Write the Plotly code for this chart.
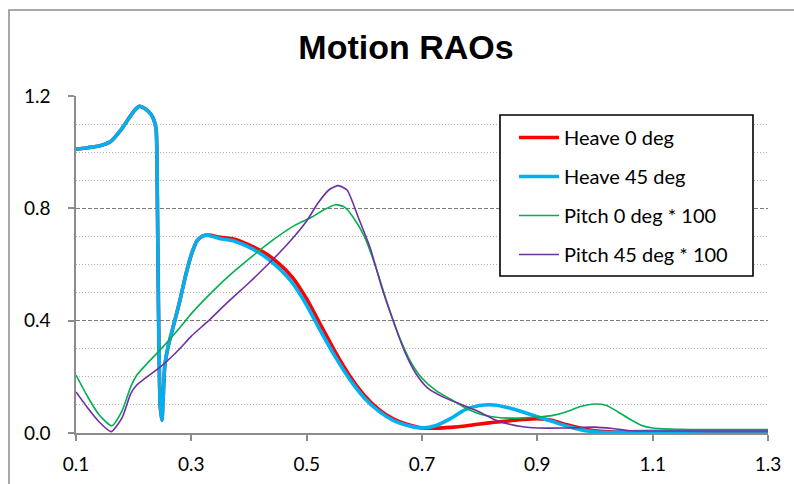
import plotly.graph_objects as go

# ---------------- data ----------------
x_h45 = [0.10, 0.12, 0.14, 0.16, 0.18, 0.20, 0.21, 0.22, 0.23, 0.235, 0.239, 0.241, 0.243, 0.246, 0.249,
         0.251, 0.254, 0.26, 0.27, 0.28, 0.29, 0.30, 0.31, 0.32, 0.33, 0.35, 0.375, 0.40, 0.425,
         0.45, 0.475, 0.50, 0.525, 0.55, 0.575, 0.60, 0.625, 0.65, 0.675, 0.70, 0.725, 0.75,
         0.775, 0.80, 0.825, 0.85, 0.875, 0.90, 0.925, 0.95, 0.975, 1.00, 1.025, 1.05, 1.10,
         1.20, 1.30]
y_h45 = [1.011, 1.016, 1.022, 1.038, 1.085, 1.145, 1.163, 1.155, 1.135, 1.115, 1.08, 0.85, 0.45, 0.10, 0.045,
         0.12, 0.24, 0.31, 0.39, 0.47, 0.56, 0.635, 0.685, 0.702, 0.703, 0.692, 0.683, 0.662, 0.632,
         0.59, 0.535, 0.455, 0.36, 0.27, 0.19, 0.125, 0.078, 0.045, 0.027, 0.018, 0.027, 0.052,
         0.083, 0.098, 0.100, 0.090, 0.075, 0.058, 0.042, 0.025, 0.012, 0.004, 0.002, 0.004, 0.006,
         0.007, 0.007]

x_h0 = x_h45
y_h0 = [1.011, 1.016, 1.022, 1.038, 1.085, 1.145, 1.163, 1.155, 1.135, 1.115, 1.08, 0.85, 0.45, 0.10, 0.045,
        0.12, 0.24, 0.31, 0.39, 0.47, 0.56, 0.635, 0.685, 0.702, 0.705, 0.697, 0.69, 0.670, 0.644,
        0.607, 0.555, 0.477, 0.382, 0.287, 0.202, 0.134, 0.084, 0.050, 0.030, 0.018, 0.017, 0.020,
        0.025, 0.032, 0.038, 0.043, 0.048, 0.051, 0.045, 0.030, 0.017, 0.008, 0.004, 0.002, 0.001,
        0.001, 0.001]

x_p0 = [0.10, 0.12, 0.14, 0.162, 0.18, 0.195, 0.205, 0.22, 0.25, 0.28, 0.30, 0.33, 0.36, 0.40, 0.44,
        0.48, 0.51, 0.53, 0.55, 0.565, 0.58, 0.60, 0.62, 0.64, 0.66, 0.68, 0.70, 0.725, 0.75, 0.775,
        0.80, 0.825, 0.85, 0.875, 0.90, 0.925, 0.95, 0.975, 1.00, 1.02, 1.04, 1.06, 1.08, 1.10,
        1.15, 1.20, 1.30]
y_p0 = [0.206, 0.13, 0.065, 0.026, 0.08, 0.165, 0.205, 0.24, 0.305, 0.375, 0.425, 0.49, 0.55, 0.62, 0.685,
        0.74, 0.77, 0.795, 0.813, 0.805, 0.77, 0.70, 0.59, 0.46, 0.345, 0.255, 0.195, 0.15, 0.12, 0.09,
        0.068, 0.057, 0.053, 0.054, 0.057, 0.062, 0.075, 0.094, 0.103, 0.098, 0.075, 0.05, 0.028, 0.018,
        0.013, 0.012, 0.012]

x_p45 = [0.10, 0.12, 0.14, 0.161, 0.18, 0.195, 0.205, 0.22, 0.25, 0.28, 0.30, 0.33, 0.36, 0.40, 0.44,
         0.47, 0.50, 0.52, 0.54, 0.555, 0.57, 0.59, 0.61, 0.63, 0.65, 0.67, 0.69, 0.71, 0.74, 0.77,
         0.80, 0.825, 0.85, 0.875, 0.90, 0.95, 1.00, 1.03, 1.06, 1.10, 1.20, 1.30]
y_p45 = [0.146, 0.09, 0.04, 0.005, 0.055, 0.14, 0.17, 0.195, 0.242, 0.30, 0.345, 0.40, 0.46, 0.535, 0.615,
         0.68, 0.755, 0.82, 0.868, 0.881, 0.865, 0.765, 0.66, 0.52, 0.40, 0.29, 0.21, 0.16, 0.125, 0.10,
         0.075, 0.048, 0.032, 0.022, 0.018, 0.018, 0.021, 0.016, 0.008, 0.007, 0.007, 0.007]

series_names = ["Heave 0 deg", "Heave 45 deg", "Pitch 0 deg * 100", "Pitch 45 deg * 100"]
x_ticks = [0.1, 0.3, 0.5, 0.7, 0.9, 1.1, 1.3]
y_ticks = [0.0, 0.4, 0.8, 1.2]

# ---------------- figure ----------------
FONT = "Lato"
PL, PR, PT, PB = 76, 768, 96, 433
PW, PH = PR - PL, PB - PT


def px_x(p):
    return (p - PL) / PW


def px_y(p):
    return (PB - p) / PH


fig = go.Figure()
specs = [
    (x_h0, y_h0, "#FF0000", 3.6),
    (x_h45, y_h45, "#00B0F0", 3.6),
    (x_p0, y_p0, "#00B050", 1.6),
    (x_p45, y_p45, "#7030A0", 1.6),
]
for i, (xs, ys, col, w) in enumerate(specs):
    fig.add_trace(go.Scatter(
        x=xs, y=ys, mode="lines", name=series_names[i], legendgroup=f"g{i}",
        line=dict(color=col, width=w, shape="spline", smoothing=0.6),
    ))

fig.update_layout(
    width=794, height=484,
    margin=dict(l=PL, r=794 - PR, t=PT, b=484 - PB, autoexpand=False),
    paper_bgcolor="white", plot_bgcolor="white",
    title=dict(text="<b>Motion RAOs</b>", x=406 / 794, xanchor="center",
               y=1 - 47 / 484, yanchor="middle",
               font=dict(family="Liberation Sans", size=34, color="black")),
    font=dict(family=FONT, size=19, color="black"),
    showlegend=True,
    legend=dict(
        x=px_x(514), y=px_y(118), xanchor="left", yanchor="top",
        bgcolor="rgba(0,0,0,0)", borderwidth=0,
        font=dict(family=FONT, size=20, color="black"),
        traceorder="grouped", tracegroupgap=10,
        itemwidth=40,
    ),
    xaxis=dict(
        range=[0.1, 1.3], tickvals=x_ticks, ticktext=[f"{v:.1f}" for v in x_ticks],
        showgrid=False, zeroline=False, automargin=False,
        showline=True, linecolor="#8c8c8c", linewidth=1.5,
        ticks="outside", ticklen=6, tickcolor="#8c8c8c", tickwidth=1.5,
        ticklabelstandoff=7,
        tickfont=dict(family=FONT, size=19, color="black"),
    ),
    yaxis=dict(
        range=[0, 1.2], tickvals=y_ticks, ticktext=[f"{v:.1f}" for v in y_ticks],
        showgrid=True, gridcolor="#7a7a7a", gridwidth=1.3, griddash="4px,2px",
        zeroline=False, automargin=False,
        showline=True, linecolor="#8c8c8c", linewidth=1.5,
        ticks="outside", ticklen=6, tickcolor="#8c8c8c", tickwidth=1.5,
        ticklabelstandoff=14,
        tickfont=dict(family=FONT, size=19, color="black"),
        minor=dict(dtick=0.1, tick0=0, showgrid=True, gridcolor="#b4b4b4",
                   gridwidth=1, griddash="1px,2px", ticks=""),
    ),
)

# legend frame
fig.add_shape(type="rect", xref="paper", yref="paper",
              x0=px_x(500), x1=px_x(753), y0=px_y(276), y1=px_y(115),
              line=dict(color="black", width=1.6), fillcolor="white", layer="above")

# outer chart border (gray, top-left visible)
fig.add_shape(type="rect", xref="paper", yref="paper",
              x0=px_x(9), y0=px_y(500), x1=px_x(810), y1=px_y(10),
              line=dict(color="#8c8c8c", width=1.5), fillcolor="rgba(0,0,0,0)",
              layer="below")

fig.write_html("out.html")
